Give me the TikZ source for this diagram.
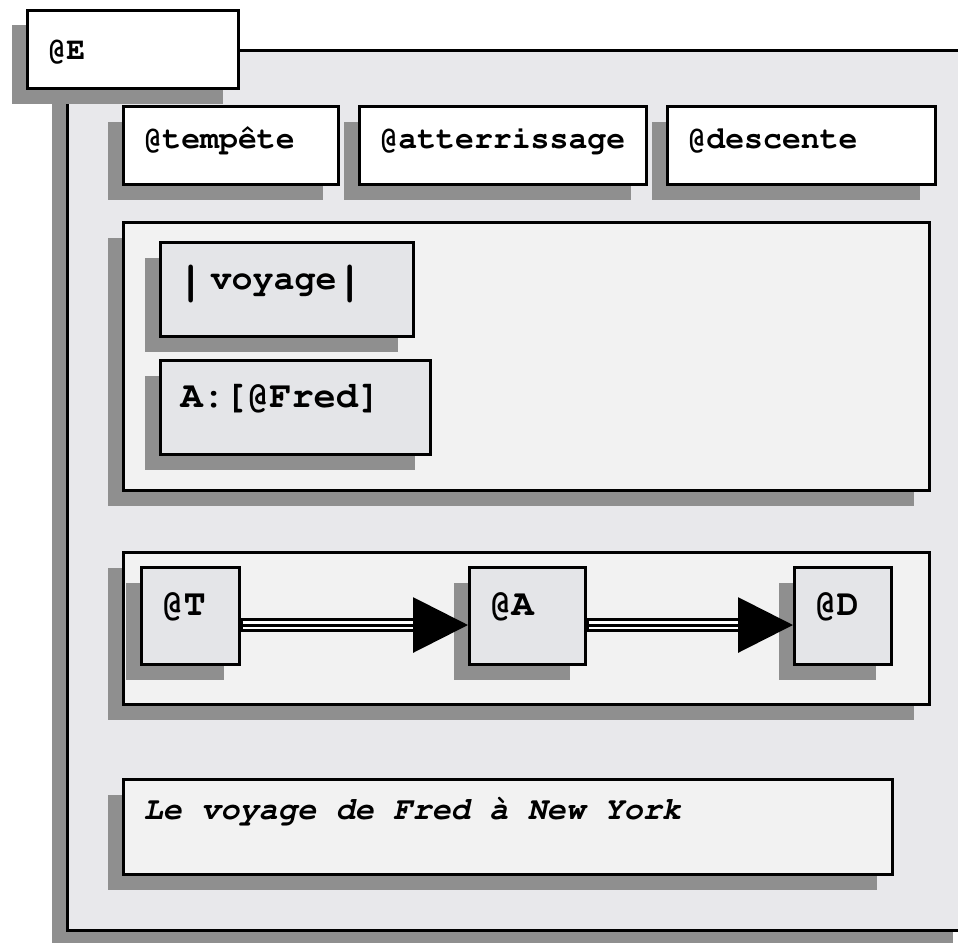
\documentclass[tikz,border=0pt]{standalone}
\usepackage[T1]{fontenc}
\usepackage{courier}
\usepackage{graphicx}
\usetikzlibrary{positioning,shadows,arrows.meta}

\definecolor{shade}{RGB}{143,143,143}
\definecolor{marble}{RGB}{232,232,235}
\definecolor{granite}{RGB}{242,242,242}
\definecolor{stone}{RGB}{228,229,232}

% heavy upright bar around a process name
\newcommand{\procbar}{\makebox[0pt]{\raisebox{-6pt}{\scalebox{1.3}[1.4]{|}}}}

\tikzset{
	card/.style={draw, line width=3pt, fill=white, anchor=north west,
		inner xsep=20pt, inner ysep=0pt, align=left,
		drop shadow={shadow xshift=-16pt, shadow yshift=-15pt, fill=shade, opacity=1}},
	panel/.style={card, fill=granite},
	tile/.style={card, fill=stone, font=\ttfamily\bfseries\fontsize{37}{40}\selectfont},
}

\begin{document}
\begin{tikzpicture}[x=1pt, y=-1pt,
	font=\ttfamily\bfseries\fontsize{31.5}{36}\selectfont]
	\useasboundingbox (0,0) rectangle (958,942);
	\clip (0,0) rectangle (958,942);

	% Specification of nodes (position, etc.)
	\node (frame)	[card, fill=marble, minimum width=901pt, minimum height=880pt] at (66,49) {};
	\node (E)			[card, text width=171pt, minimum height=78pt, text height=26pt, text depth=6pt]
								at (26,9)		{@E};

	% situations across the top
	\node (tempete)	[card, text width=175pt, minimum height=78pt, text height=18pt, text depth=12pt]
									at (122,105)	{@tempête};
	\node (atterrissage)	[card, text width=247pt, minimum height=78pt, text height=18pt, text depth=12pt,
									right=18pt of tempete]	{@atterrissage};
	\node (descente)	[card, text width=228pt, minimum height=78pt, text height=18pt, text depth=12pt,
									right=18pt of atterrissage]	{@descente};

	% process and its agent
	\node (cast)		[panel, minimum width=806pt, minimum height=268pt] at (122,221) {};
	\node (voyage)	[tile, text width=213pt, minimum height=94pt, text height=16pt, text depth=16pt,
									font=\ttfamily\bfseries\fontsize{35}{40}\selectfont]
									at (159,241)
									{\hspace*{11pt}\procbar\hspace*{19pt}voyage\hspace*{14pt}\procbar};
	\node (fred)		[tile, text width=230pt, minimum height=94pt, text height=16pt, text depth=16pt,
									below=21pt of voyage.south west, anchor=north west]	{A:[@Fred]};

	% sequence of events
	\node (line)		[panel, minimum width=806pt, minimum height=152pt, below=59pt of cast] {};
	\node (T)				[tile, text width=58pt, minimum height=97pt, text height=16pt, text depth=17pt]
									at (140,566)	{@T};
	\node (A)				[tile, text width=76pt, minimum height=97pt, text height=16pt, text depth=17pt]
									at (468,566)	{@A};
	\node (D)				[tile, text width=57pt, minimum height=97pt, text height=16pt, text depth=17pt]
									at (793,566)	{@D};

	\foreach \a/\b in {T/A, A/D} {
		\draw[line width=14pt, shorten >=54pt]	([yshift=-9pt]\a.east) -- ([yshift=-9pt]\b.west);
		\draw[line width=8pt, white, shorten >=54pt, shorten <=1.5pt]
																						([yshift=-9pt]\a.east) -- ([yshift=-9pt]\b.west);
		\draw[line width=3pt, -{Triangle[length=55pt, width=55pt]}]
																						([yshift=-9pt]\a.east) -- ([yshift=-9pt]\b.west);
	}

	% caption
	\node (caption)	[panel, text width=729pt, minimum height=95pt, text height=10pt, text depth=25pt,
									font=\ttfamily\bfseries\fontsize{32}{36}\selectfont]
									at (122,778)	{\itshape\spaceskip=0.6em\relax Le voyage de Fred à New York};
\end{tikzpicture}
\end{document}
